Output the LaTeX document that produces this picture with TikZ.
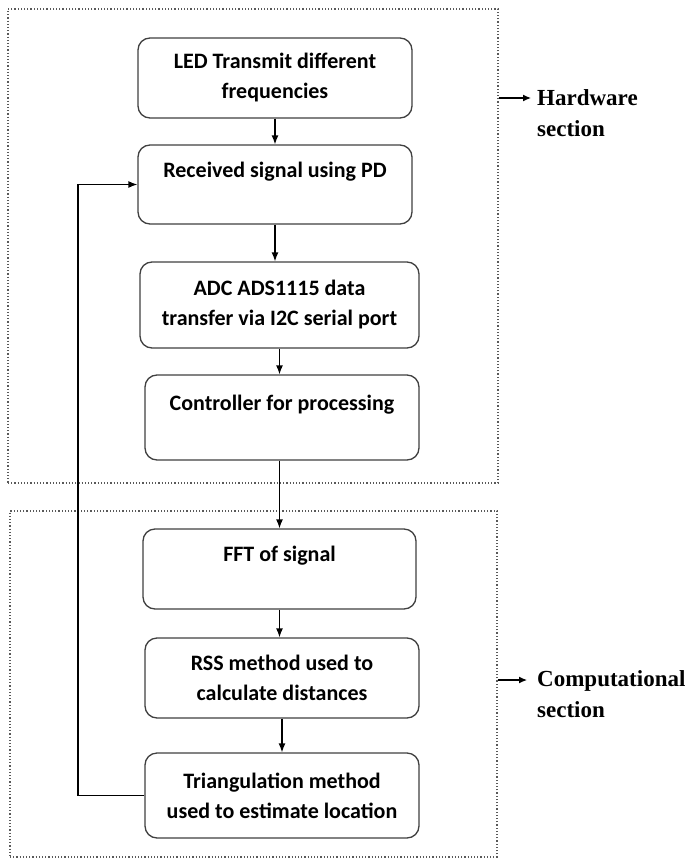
\documentclass[tikz,border=0pt]{standalone}
\usepackage{fontspec}
\setmainfont{Carlito}
\newfontfamily\seclblfont{Liberation Serif}
\usetikzlibrary{arrows.meta, positioning, calc}
\tikzset{
    step_box/.style={
        rectangle, rounded corners=12pt, draw=black!75, line width=1.3pt, fill=white,
        minimum width=274pt, minimum height=80pt, inner sep=0pt,
        align=center, font=\fontsize{22}{30}\selectfont\bfseries
    },
    frame_box/.style={
        rectangle, draw=black!65, dotted, line width=1.2pt, inner sep=0pt
    },
    flow_arrow/.style={
        -{Latex[length=9pt, width=7pt]}, line width=1.3pt, draw=black
    },
    side_arrow/.style={
        -{Latex[length=8pt, width=7pt]}, line width=1.2pt, draw=black
    },
    sec_lbl/.style={
        font=\seclblfont\fontsize{23}{31}\selectfont\bfseries,
        align=left, inner sep=0pt, anchor=west
    }
}

\begin{document}
\begin{tikzpicture}[x=1pt, y=-1pt]
    \useasboundingbox (0,0) rectangle (688,859);

    % --- Section frames ---
    \node[frame_box, minimum width=490pt, minimum height=474pt] (hw) at (253,246) {};
    \node[frame_box, minimum width=487pt, minimum height=346pt] (cmp) at (253.5,684) {};

    % --- Hardware steps ---
    \node[step_box] (led) at (275,78) {LED Transmit different\\frequencies};
    \node[step_box, minimum height=79pt] (recv) at (275,184.5) {Received signal using PD\\ \phantom{X}};
    \node[step_box, minimum width=279pt, minimum height=86pt] (adc) at (279.5,305) {ADC ADS1115 data\\transfer via I2C serial port};
    \node[step_box, minimum height=85pt] (ctrl) at (282,417.5) {Controller for processing\\ \phantom{X}};

    % --- Computational steps ---
    \node[step_box, minimum width=273pt] (fft) at (279.5,569) {FFT of signal\\ \phantom{X}};
    \node[step_box] (rss) at (282,678) {RSS method used to\\calculate distances};
    \node[step_box, minimum height=85pt] (tri) at (282,795.5) {Triangulation method\\used to estimate location};

    % --- Section labels ---
    \coordinate (hw_tip) at (531,98);
    \node[sec_lbl] (hw_lbl) at (537,113.5) {Hardware\\section};
    \coordinate (cmp_tip) at (527,680);
    \node[sec_lbl] (cmp_lbl) at (537,694.5) {Computational\\section};

    \draw[side_arrow] (hw.east |- hw_tip) -- (hw_tip);
    \draw[side_arrow] (cmp.east |- cmp_tip) -- (cmp_tip);

    % --- Flow arrows ---
    \draw[flow_arrow] (led) -- (recv);
    \draw[flow_arrow] (recv.south) -- (recv.south |- adc.north);
    \draw[flow_arrow] (adc.south) -- (adc.south |- ctrl.north);
    \draw[flow_arrow] (fft.north |- ctrl.south) -- (fft.north);
    \draw[flow_arrow] (fft.south) -- (fft.south |- rss.north);
    \draw[flow_arrow] (rss) -- (tri);

    % --- Feedback loop ---
    \coordinate (loop_x) at (78,0);
    \draw[flow_arrow] (tri.west) -- (tri.west -| loop_x) |- (recv.west);

\end{tikzpicture}
\end{document}
